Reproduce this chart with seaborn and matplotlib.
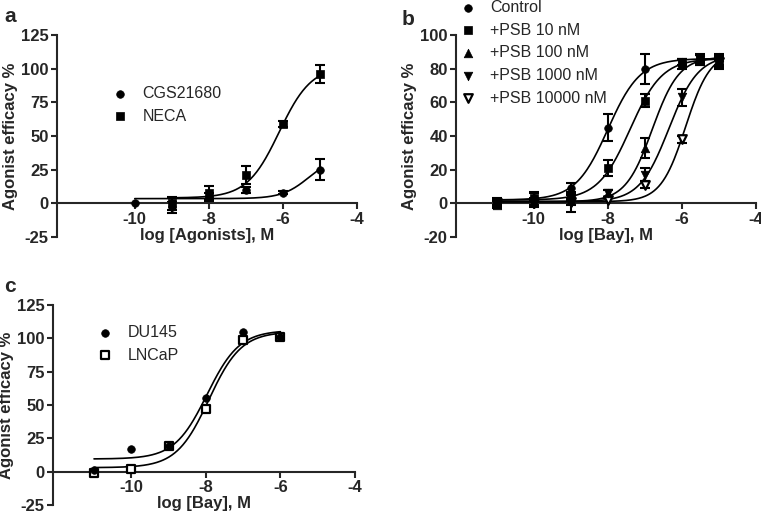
import numpy as np
import matplotlib
matplotlib.use('Agg')
import matplotlib.pyplot as plt
import seaborn as sns

# ---- panel a: agonists ----
a_names = ['CGS21680', 'NECA']
a_x_cgs = [-10, -9, -8, -7, -6, -5]
a_y_cgs = [0, -3, 5, 10, 8, 25]
a_err_cgs = [0, 4, 3, 2, 1, 8]
a_x_neca = [-9, -8, -7, -6, -5]
a_y_neca = [0, 8, 21, 59, 96]
a_err_neca = [5, 5, 7, 2, 7]
# fit params: bottom, top, logEC50, hill
a_fit_cgs = [3.5, 35, -5.3, 1.2]
a_fit_neca = [4, 102, -6.1, 1.0]

# ---- panel b: Bay + PSB ----
b_names = ['Control', '+PSB 10 nM', '+PSB 100 nM', '+PSB 1000 nM', '+PSB 10000 nM']
b_x = [-11, -10, -9, -8, -7, -6, -5.5, -5]
b_x_psb10000 = [-11, -10, -9, -8, -7, -6, -5]
b_y_control = [1, 3, 9, 45, 80, 84, 86, 85]
b_err_control = [2, 3, 3, 8, 9, 2, 3, 3]
b_y_psb10 = [0, 3, 5, 21, 61, 83, 85, 83]
b_err_psb10 = [2, 4, 2, 5, 4, 3, 3, 3]
b_y_psb100 = [-1, 1, 2, 6, 33, 84, 86, 87]
b_err_psb100 = [2, 2, 3, 2, 6, 2, 2, 2]
b_y_psb1000 = [0, 0, 0, 6, 17, 63, 85, 84]
b_err_psb1000 = [2, 2, 5, 2, 4, 5, 3, 3]
b_y_psb10000 = [0, 0, 1, 2, 11, 38, 84]
b_err_psb10000 = [1, 1, 1, 1, 2, 2, 2]
b_fit_control = [2, 86, -8.0, 1.0]
b_fit_psb10 = [2, 86, -7.4, 1.0]
b_fit_psb100 = [1, 87, -6.8, 1.2]
b_fit_psb1000 = [1, 88, -6.35, 1.1]
b_fit_psb10000 = [1, 90, -5.9, 1.3]

# ---- panel c: cell lines ----
c_names = ['DU145', 'LNCaP']
c_x = [-11, -10, -9, -8, -7, -6]
c_y_du145 = [1, 17, 19, 55, 105, 101]
c_y_lncap = [-1, 2, 19, 47, 99, 101]
c_fit_du145 = [9.5, 106, -7.97, 1.0]
c_fit_lncap = [3, 105, -7.92, 1.0]

sns.set_style('ticks')
plt.rcParams['font.family'] = ['Liberation Sans', 'DejaVu Sans']
plt.rcParams['axes.linewidth'] = 1.5
plt.rcParams['axes.unicode_minus'] = False

fig = plt.figure(figsize=(7.61, 5.19), dpi=100)
W, H = 761, 519


def add_ax(left, right, top, bottom):
    return fig.add_axes([left / W, 1 - bottom / H, (right - left) / W, (bottom - top) / H])


def fit_curve(x0, x1, p):
    xs = np.linspace(x0, x1, 200)
    bot, top, ec, hill = p
    return xs, bot + (top - bot) / (1 + 10 ** ((ec - xs) * hill))


def draw_series(ax, x, y, err, marker, s, filled, label, fit, z=4):
    if err is not None:
        ax.errorbar(x, y, yerr=err, fmt='none', ecolor='black', elinewidth=1.5,
                    capsize=3.5, capthick=1.5, zorder=2)
    xs, ys = fit_curve(min(x), max(x), fit)
    sns.lineplot(x=xs, y=ys, ax=ax, color='black', linewidth=1.2, zorder=3)
    sns.scatterplot(x=x, y=y, ax=ax, marker=marker, s=s,
                    color='black' if filled else 'white', edgecolor='black',
                    linewidth=0.5 if filled else 1.6, label=label, zorder=z)


def style_ax(ax, ylim, yticks, xlabel):
    ax.set_xlim(-12.1, -4)
    ax.set_ylim(*ylim)
    ax.set_xticks([-10, -8, -6, -4])
    ax.set_yticks(yticks)
    ax.spines['top'].set_visible(False)
    ax.spines['right'].set_visible(False)
    ax.spines['bottom'].set_position(('data', 0))
    ax.tick_params(width=1.5, length=4, labelsize=12, pad=2)
    for t in ax.get_xticklabels() + ax.get_yticklabels():
        t.set_fontweight('bold')
    ax.set_xlabel(xlabel, fontsize=12, fontweight='bold', labelpad=1)
    ax.set_ylabel('Agonist efficacy %', fontsize=12, fontweight='bold', labelpad=2)


def add_legend(ax, names, x, y):
    handles, labels = ax.get_legend_handles_labels()
    keep = [(h, l) for h, l in zip(handles, labels) if l in names]
    keep.sort(key=lambda hl: names.index(hl[1]))
    ax.legend([h for h, _ in keep], [l for _, l in keep], frameon=False,
              loc='upper left', bbox_to_anchor=(x / W, 1 - y / H),
              bbox_transform=fig.transFigure, fontsize=11.5, handletextpad=0.9,
              labelspacing=0.48, borderpad=0, handlelength=1.0)


# panel a
ax_a = add_ax(57, 357, 35, 237)
draw_series(ax_a, a_x_cgs, a_y_cgs, a_err_cgs, 'o', 30, True, a_names[0], a_fit_cgs)
draw_series(ax_a, a_x_neca, a_y_neca, a_err_neca, 's', 30, True, a_names[1], a_fit_neca)
style_ax(ax_a, (-25, 125), [-25, 0, 25, 50, 75, 100, 125], 'log [Agonists], M')
add_legend(ax_a, a_names, 104, 78)

# panel b
ax_b = add_ax(456, 756, 35, 237)
b_series = [
    (b_x, b_y_control, b_err_control, 'o', 30, True, b_fit_control),
    (b_x, b_y_psb10, b_err_psb10, 's', 30, True, b_fit_psb10),
    (b_x, b_y_psb100, b_err_psb100, '^', 38, True, b_fit_psb100),
    (b_x, b_y_psb1000, b_err_psb1000, 'v', 38, True, b_fit_psb1000),
    (b_x_psb10000, b_y_psb10000, b_err_psb10000, 'v', 38, False, b_fit_psb10000),
]
for i, (name, (x, y, err, m, s, filled, fit)) in enumerate(zip(b_names, b_series)):
    draw_series(ax_b, x, y, err, m, s, filled, name, fit, z=10 - i)
style_ax(ax_b, (-20, 100), [-20, 0, 20, 40, 60, 80, 100], 'log [Bay], M')
add_legend(ax_b, b_names, 452, -8)

# panel c
ax_c = add_ax(53, 355, 305, 505)
draw_series(ax_c, c_x, c_y_du145, None, 'o', 30, True, c_names[0], c_fit_du145, z=5)
draw_series(ax_c, c_x, c_y_lncap, None, 's', 34, False, c_names[1], c_fit_lncap, z=4)
style_ax(ax_c, (-25, 125), [-25, 0, 25, 50, 75, 100, 125], 'log [Bay], M')
add_legend(ax_c, c_names, 89, 317)

fig.text(4 / W, 1 - 22 / H, 'a', fontsize=15, fontweight='bold')
fig.text(402 / W, 1 - 25 / H, 'b', fontsize=15, fontweight='bold')
fig.text(4 / W, 1 - 292 / H, 'c', fontsize=15, fontweight='bold')

fig.savefig('out.png', dpi=100)
